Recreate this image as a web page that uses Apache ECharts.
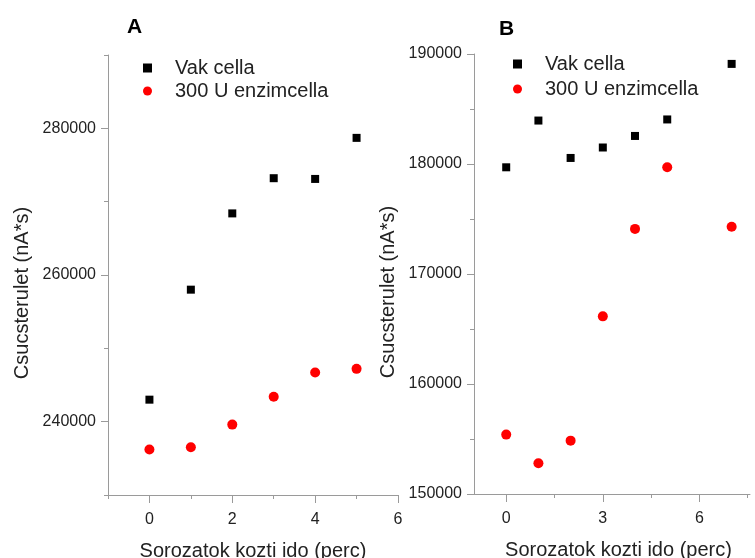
<!DOCTYPE html>
<html><head><meta charset="utf-8">
<script src="https://cdn.jsdelivr.net/npm/echarts@6/dist/echarts.min.js"></script>
<style>html,body{margin:0;padding:0;background:#fff}#c{width:755px;height:558px}</style>
</head><body><div id="c"></div>
<script>
// Panel A data
const xA = [0, 1, 2, 3, 4, 5];
const vakA = [243000, 258000, 268400, 273200, 273100, 278700];
const enzA = [236200, 236500, 239600, 243400, 246700, 247200];
// Panel B data
const xB = [0, 1, 2, 3, 4, 5, 7];
const vakB = [179700, 183950, 180550, 181500, 182550, 184050, 189100];
const enzB = [155400, 152800, 154850, 166150, 174100, 179700, 174300];
// Tick values
const yAMajor = [240000, 260000, 280000];
const yAMinor = [230000, 250000, 270000, 290000];
const xAMajor = [0, 2, 4, 6];
const xAMinor = [-1, 1, 3, 5];
const yBMajor = [150000, 160000, 170000, 180000, 190000];
const yBMinor = [155000, 165000, 175000, 185000];
const xBMajor = [0, 3, 6];
const xBMinor = [1.5, 4.5, 7.5];
const seriesNames = ['Vak cella', '300 U enzimcella'];
const xTitle = 'Sorozatok kozti ido (perc)';
const yTitle = 'Csucsterulet (nA*s)';

const FONT = 'Liberation Sans, Arial, sans-serif';
const AX = '#9a9a9a';
const TXT = '#222';

function pairs(xs, ys) { return xs.map((x, i) => [x, ys[i]]); }
const plain = v => String(v);

function mainX(gi, min, max, major, padLeft) {
  return {
    type: 'value', gridIndex: gi, min: min, max: max, position: 'bottom',
    name: xTitle, nameLocation: 'middle', nameGap: 46,
    nameTextStyle: { fontFamily: FONT, fontSize: 20, color: TXT, padding: [0, 0, 0, padLeft] },
    axisLine: { show: true, onZero: false, lineStyle: { color: AX, width: 1 } },
    axisTick: { show: true, length: 8, customValues: major, lineStyle: { color: AX } },
    axisLabel: { customValues: major, margin: 17, fontFamily: FONT, fontSize: 16, color: TXT, formatter: plain },
    splitLine: { show: false }
  };
}
function minorX(gi, min, max, minor) {
  return {
    type: 'value', gridIndex: gi, min: min, max: max, position: 'bottom',
    axisLine: { show: false, onZero: false },
    axisTick: { show: true, length: 4, customValues: minor, lineStyle: { color: AX } },
    axisLabel: { show: false }, splitLine: { show: false }
  };
}
function mainY(gi, min, max, major) {
  return {
    type: 'value', gridIndex: gi, min: min, max: max, position: 'left',
    name: yTitle, nameLocation: 'middle', nameGap: 76, nameRotate: 90,
    nameTextStyle: { fontFamily: FONT, fontSize: 20, color: TXT, padding: [0, 36, 0, 0] },
    axisLine: { show: true, onZero: false, lineStyle: { color: AX, width: 1 } },
    axisTick: { show: true, length: 7, customValues: major, lineStyle: { color: AX } },
    axisLabel: { customValues: major, margin: 12, fontFamily: FONT, fontSize: 16, color: TXT, formatter: plain },
    splitLine: { show: false }
  };
}
function minorY(gi, min, max, minor) {
  return {
    type: 'value', gridIndex: gi, min: min, max: max, position: 'left',
    axisLine: { show: false, onZero: false },
    axisTick: { show: true, length: 4, customValues: minor, lineStyle: { color: AX } },
    axisLabel: { show: false }, splitLine: { show: false }
  };
}
function legendAt(left, top, gap) {
  return {
    left: left, top: top, orient: 'vertical', itemGap: gap,
    itemWidth: 9, itemHeight: 9,
    data: [{ name: seriesNames[0], icon: 'rect' }, { name: seriesNames[1], icon: 'circle' }],
    textStyle: { fontFamily: FONT, fontSize: 20, color: TXT, lineHeight: 20, padding: [0, 0, 0, 18] },
    selectedMode: false
  };
}
function sq(name, data, xi, yi) {
  return { type: 'scatter', name: name, xAxisIndex: xi, yAxisIndex: yi, data: data,
    symbol: 'rect', symbolSize: 8, itemStyle: { color: '#000', opacity: 1 }, silent: true };
}
function ci(name, data, xi, yi) {
  return { type: 'scatter', name: name, xAxisIndex: xi, yAxisIndex: yi, data: data,
    symbol: 'circle', symbolSize: 10, itemStyle: { color: '#f00', opacity: 1 }, silent: true };
}

const chart = echarts.init(document.getElementById('c'), null, { renderer: 'canvas' });
chart.setOption({
  animation: false,
  backgroundColor: '#fff',
  title: [
    { text: 'A', left: 122, top: 12, textStyle: { fontFamily: FONT, fontSize: 21, fontWeight: 'bold', color: '#000' } },
    { text: 'B', left: 494, top: 14, textStyle: { fontFamily: FONT, fontSize: 21, fontWeight: 'bold', color: '#000' } }
  ],
  legend: [legendAt(138, 53, 3), legendAt(508, 49, 5)],
  grid: [
    { left: 108, top: 55, width: 290, height: 440, outerBoundsMode: 'none', containLabel: false },
    { left: 474, top: 54, width: 276, height: 440, outerBoundsMode: 'none', containLabel: false }
  ],
  xAxis: [
    mainX(0, -1, 6, xAMajor, 0),
    minorX(0, -1, 6, xAMinor),
    mainX(1, -1, 7.57, xBMajor, 13),
    minorX(1, -1, 7.57, xBMinor)
  ],
  yAxis: [
    mainY(0, 230000, 290000, yAMajor),
    minorY(0, 230000, 290000, yAMinor),
    mainY(1, 150000, 190000, yBMajor),
    minorY(1, 150000, 190000, yBMinor)
  ],
  series: [
    sq(seriesNames[0], pairs(xA, vakA), 0, 0),
    ci(seriesNames[1], pairs(xA, enzA), 0, 0),
    sq(seriesNames[0], pairs(xB, vakB), 2, 2),
    ci(seriesNames[1], pairs(xB, enzB), 2, 2)
  ]
});
</script></body></html>
